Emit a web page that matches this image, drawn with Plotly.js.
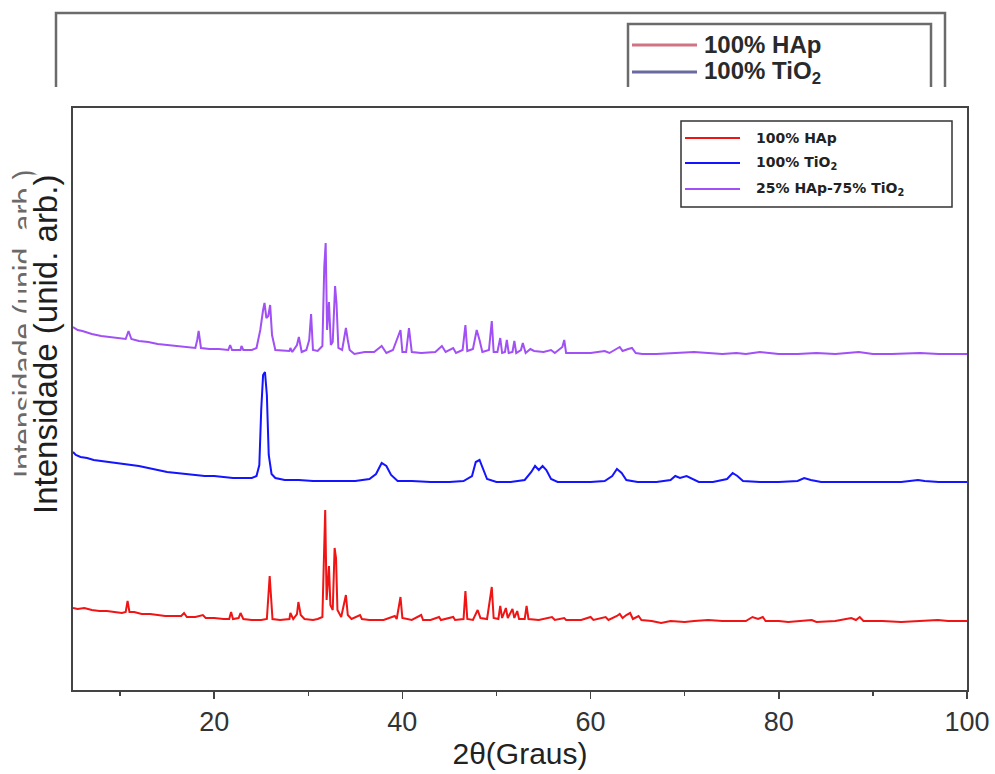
<!DOCTYPE html>
<html>
<head>
<meta charset="utf-8">
<script src="https://cdn.plot.ly/plotly-3.0.1.min.js"></script>
<style>html,body{margin:0;padding:0;background:#fff;}#chart{width:995px;height:774px;}</style>
</head>
<body>
<div id="chart"></div>
<script>
// ---- data (2θ in degrees, intensity in arbitrary units) ----
const seriesNames = ['100% HAp', '100% TiO<sub>2</sub>', '25% HAp-75% TiO<sub>2</sub>'];
const ghostLegendLabels = ['100% HAp', '100% TiO<sub>2</sub>'];
const yTitle = 'Intensidade (unid. arb.)';
const xTitle = '2θ(Graus)';

const twoThetaHAp = [5.0,5.5,6.2,7.0,7.8,8.6,9.4,10.2,10.6,10.8,11.0,11.5,12.3,13.2,14.0,14.8,15.6,16.5,16.8,17.1,18.0,18.8,19.1,20.0,21.0,21.6,21.8,22.0,22.6,22.8,23.1,24.0,25.0,25.6,25.9,26.2,27.0,28.0,28.1,28.4,28.8,28.95,29.2,29.6,30.5,31.0,31.5,31.7,31.8,31.95,32.2,32.35,32.6,32.8,32.95,33.1,33.5,34.0,34.2,34.6,35.5,35.7,36.5,38.0,39.2,39.4,39.8,40.0,41.0,42.0,42.2,43.0,43.9,44.1,45.4,45.6,46.5,46.7,46.9,47.5,48.0,48.3,49.0,49.5,49.7,50.2,50.4,50.6,51.0,51.2,51.7,51.9,52.2,52.4,53.0,53.2,53.4,54.5,55.9,56.2,57.2,57.4,59.0,60.0,60.3,61.6,61.9,62.8,63.1,63.4,63.8,64.2,64.5,65.1,65.4,66.5,67.5,68.5,70.0,71.0,72.5,74.0,75.5,76.5,77.2,77.8,78.3,78.6,80.0,81.0,83.5,84.0,86.0,87.7,88.2,88.6,89.0,91.0,93.0,95.0,96.9,98.0,100.0];
const intensityHAp = [82,81,82,80,79,79,78,77,78,89,78,78,76,76,75,74,74,74,77,73,73,75,72,72,71,71,78,71,72,77,71,70,70,71,114,71,70,71,77,71,76,88,75,71,70,71,73,140,180,90,124,85,80,142,132,80,73,95,75,71,75,71,70,70,74,71,93,72,70,75,70,70,73,70,73,70,71,99,71,70,80,72,71,103,72,71,84,72,82,72,81,72,79,71,71,84,71,70,73,70,72,70,70,73,70,73,70,74,76,72,75,77,71,74,70,69,67,69,68,69,70,69,69,69,73,71,73,69,69,68,70,68,69,72,70,73,69,69,68,69,70,69,69];

const twoThetaTiO2 = [5.0,5.3,5.8,6.5,7.2,8.0,9.0,10.0,11.0,12.0,13.0,14.0,15.0,16.0,17.0,18.0,19.0,20.0,21.0,22.0,23.0,24.0,24.5,24.8,25.0,25.2,25.4,25.6,25.8,26.1,26.5,27.5,29.0,30.5,32.0,33.5,35.0,36.5,37.2,37.8,38.3,38.8,39.5,41.0,43.0,45.0,46.5,47.4,47.8,48.2,48.6,49.0,50.0,51.5,53.0,53.7,54.1,54.5,54.9,55.3,55.8,56.5,58.0,60.0,61.5,62.3,62.8,63.3,63.8,65.0,67.0,68.5,69.0,69.5,70.2,70.8,71.5,73.0,74.5,75.1,75.6,76.2,78.0,80.0,82.0,82.7,83.4,84.5,87.0,90.0,93.0,94.8,95.5,97.0,100.0];
const intensityTiO2 = [238,235,233,232,230,229,228,227,226,224,222,220,218,217,216,215,214,214,213,212,212,212,214,225,280,315,318,295,235,216,212,210,210,209,209,209,209,211,216,227,224,215,209,209,208,208,209,214,228,230,220,211,208,208,210,218,224,220,224,220,211,208,208,208,209,214,221,217,210,208,208,210,214,212,214,211,208,208,211,217,214,209,208,208,209,212,210,208,208,208,208,210,209,208,208];

const twoThetaMix = [5.0,5.5,6.0,7.0,8.0,9.0,10.0,10.6,10.9,11.2,12.0,13.0,14.0,15.0,16.0,17.0,18.0,18.2,18.35,18.6,19.5,20.5,21.5,21.7,21.9,22.8,22.9,23.1,24.0,24.5,24.9,25.2,25.35,25.55,25.75,25.95,26.15,26.5,27.5,28.0,28.1,28.3,28.8,29.0,29.3,29.8,30.1,30.3,30.5,31.0,31.5,31.7,31.85,32.0,32.2,32.4,32.6,32.85,33.0,33.2,33.6,34.0,34.2,34.4,34.9,36.0,37.0,37.8,38.3,39.0,39.8,40.0,40.4,40.7,41.0,42.0,43.5,44.2,44.6,45.4,45.7,46.4,46.7,46.9,47.5,47.9,48.2,48.5,49.2,49.5,49.7,50.1,50.4,50.6,50.9,51.1,51.3,51.7,51.9,52.1,52.6,52.8,53.1,53.6,54.0,55.0,55.8,56.2,57.0,57.2,57.4,58.5,60.0,61.5,62.0,63.1,63.4,64.0,64.4,64.8,65.5,67.0,69.0,70.0,71.0,72.5,74.0,75.5,76.5,78.0,80.0,82.0,84.0,86.0,88.0,88.5,90.0,92.0,95.0,97.0,100.0];
const intensityMix = [363,360,359,356,354,353,352,351,359,351,349,348,346,345,344,343,342,350,359,342,341,341,340,345,340,340,344,340,340,342,360,380,387,372,374,385,355,340,339,339,342,338,345,353,338,340,350,376,340,339,344,423,447,360,388,345,348,404,387,342,340,362,350,340,336,338,338,344,337,340,360,338,338,362,338,337,338,344,338,342,337,340,365,339,341,360,350,338,340,369,338,338,352,337,338,350,337,338,349,337,340,347,337,341,339,338,340,337,343,350,337,337,337,339,337,343,339,341,342,337,336,336,337,338,338,337,336,337,336,338,336,336,337,336,337,338,336,336,337,336,336];

const seriesColors = ['#f01414', '#1414ff', '#a050f5'];
const ghostColors = ['#d07484', '#6a6aa0'];

// ---- geometry helpers (pixel -> paper) ----
const L = 73, R = 967, T = 108, B = 690;
const px = x => (x - L) / (R - L);
const py = y => (B - y) / (B - T);

const xs = [twoThetaHAp, twoThetaTiO2, twoThetaMix];
const ys = [intensityHAp, intensityTiO2, intensityMix];

const traces = xs.map((x, i) => ({
  type: 'scatter', mode: 'lines', x: x, y: ys[i], name: seriesNames[i],
  line: {color: seriesColors[i], width: 2, shape: 'linear'},
  showlegend: false, hoverinfo: 'x+y'
}));

const shapes = [];
const annotations = [];

// ghost frame of the overlapping image at the top
shapes.push({type: 'path', xref: 'paper', yref: 'paper',
  path: `M${px(56)},${py(87)} L${px(56)},${py(13)} L${px(945)},${py(13)} L${px(945)},${py(87)}`,
  line: {color: '#6b6b6b', width: 2.5}});
shapes.push({type: 'path', xref: 'paper', yref: 'paper',
  path: `M${px(628)},${py(87)} L${px(628)},${py(24)} L${px(931)},${py(24)} L${px(931)},${py(87)}`,
  line: {color: '#6b6b6b', width: 2.5}});
const ghostRows = [45, 72];
ghostLegendLabels.forEach((lab, i) => {
  shapes.push({type: 'line', xref: 'paper', yref: 'paper',
    x0: px(632), x1: px(697), y0: py(ghostRows[i]), y1: py(ghostRows[i]),
    line: {color: ghostColors[i], width: 3}});
  annotations.push({xref: 'paper', yref: 'paper', x: px(702), y: py(ghostRows[i]),
    xanchor: 'left', yanchor: 'middle', showarrow: false, text: '<b>' + lab + '</b>',
    font: {family: 'Liberation Sans, Arial, sans-serif', size: 24, color: '#2a2a2a'}});
});

// main legend
shapes.push({type: 'rect', xref: 'paper', yref: 'paper',
  x0: px(681), x1: px(952), y0: py(207), y1: py(121),
  line: {color: '#333', width: 1.5}, fillcolor: 'rgba(255,255,255,0)'});
const legRows = [138, 163, 189];
seriesNames.forEach((lab, i) => {
  shapes.push({type: 'line', xref: 'paper', yref: 'paper',
    x0: px(685), x1: px(740), y0: py(legRows[i]), y1: py(legRows[i]),
    line: {color: seriesColors[i], width: 2}});
  annotations.push({xref: 'paper', yref: 'paper', x: px(754), y: py(legRows[i]),
    xanchor: 'left', yanchor: 'middle', showarrow: false, text: '<b>' + lab + '</b>',
    font: {family: 'DejaVu Sans, sans-serif', size: 14, color: '#222'}});
});

// ghost y title (partially hidden), then main y title on a white box
annotations.push({xref: 'paper', yref: 'paper', x: px(23), y: py(324), textangle: -90,
  xanchor: 'center', yanchor: 'middle', showarrow: false, text: yTitle,
  font: {family: 'Liberation Sans, Arial, sans-serif', size: 30, color: '#6a6a6a'}});
annotations.push({xref: 'paper', yref: 'paper', x: px(45), y: py(345), textangle: -90,
  xanchor: 'center', yanchor: 'middle', showarrow: false, text: yTitle,
  bgcolor: '#ffffff', borderpad: 0,
  font: {family: 'Liberation Sans, Arial, sans-serif', size: 33, color: '#1e1e1e'}});

const layout = {
  width: 995, height: 774,
  margin: {l: L, r: 995 - R, t: T, b: 774 - B},
  paper_bgcolor: '#ffffff', plot_bgcolor: '#ffffff',
  showlegend: false,
  xaxis: {
    range: [5, 100], tick0: 0, dtick: 20,
    ticks: 'outside', ticklen: 7, tickwidth: 1.5, tickcolor: '#444',
    minor: {dtick: 10, tick0: 0, ticks: 'outside', ticklen: 4, tickwidth: 1.5, tickcolor: '#444'},
    showline: true, linecolor: '#444', linewidth: 2, mirror: true,
    showgrid: false, zeroline: false,
    tickfont: {family: 'Liberation Sans, Arial, sans-serif', size: 27, color: '#333'},
    title: {text: xTitle, standoff: 6, font: {family: 'Liberation Sans, Arial, sans-serif', size: 30, color: '#222'}}
  },
  yaxis: {
    range: [0, 582], showticklabels: false, ticks: '',
    showline: true, linecolor: '#444', linewidth: 2, mirror: true,
    showgrid: false, zeroline: false
  },
  shapes: shapes,
  annotations: annotations
};

Plotly.newPlot('chart', traces, layout, {displayModeBar: false, staticPlot: true});
</script>
</body>
</html>
